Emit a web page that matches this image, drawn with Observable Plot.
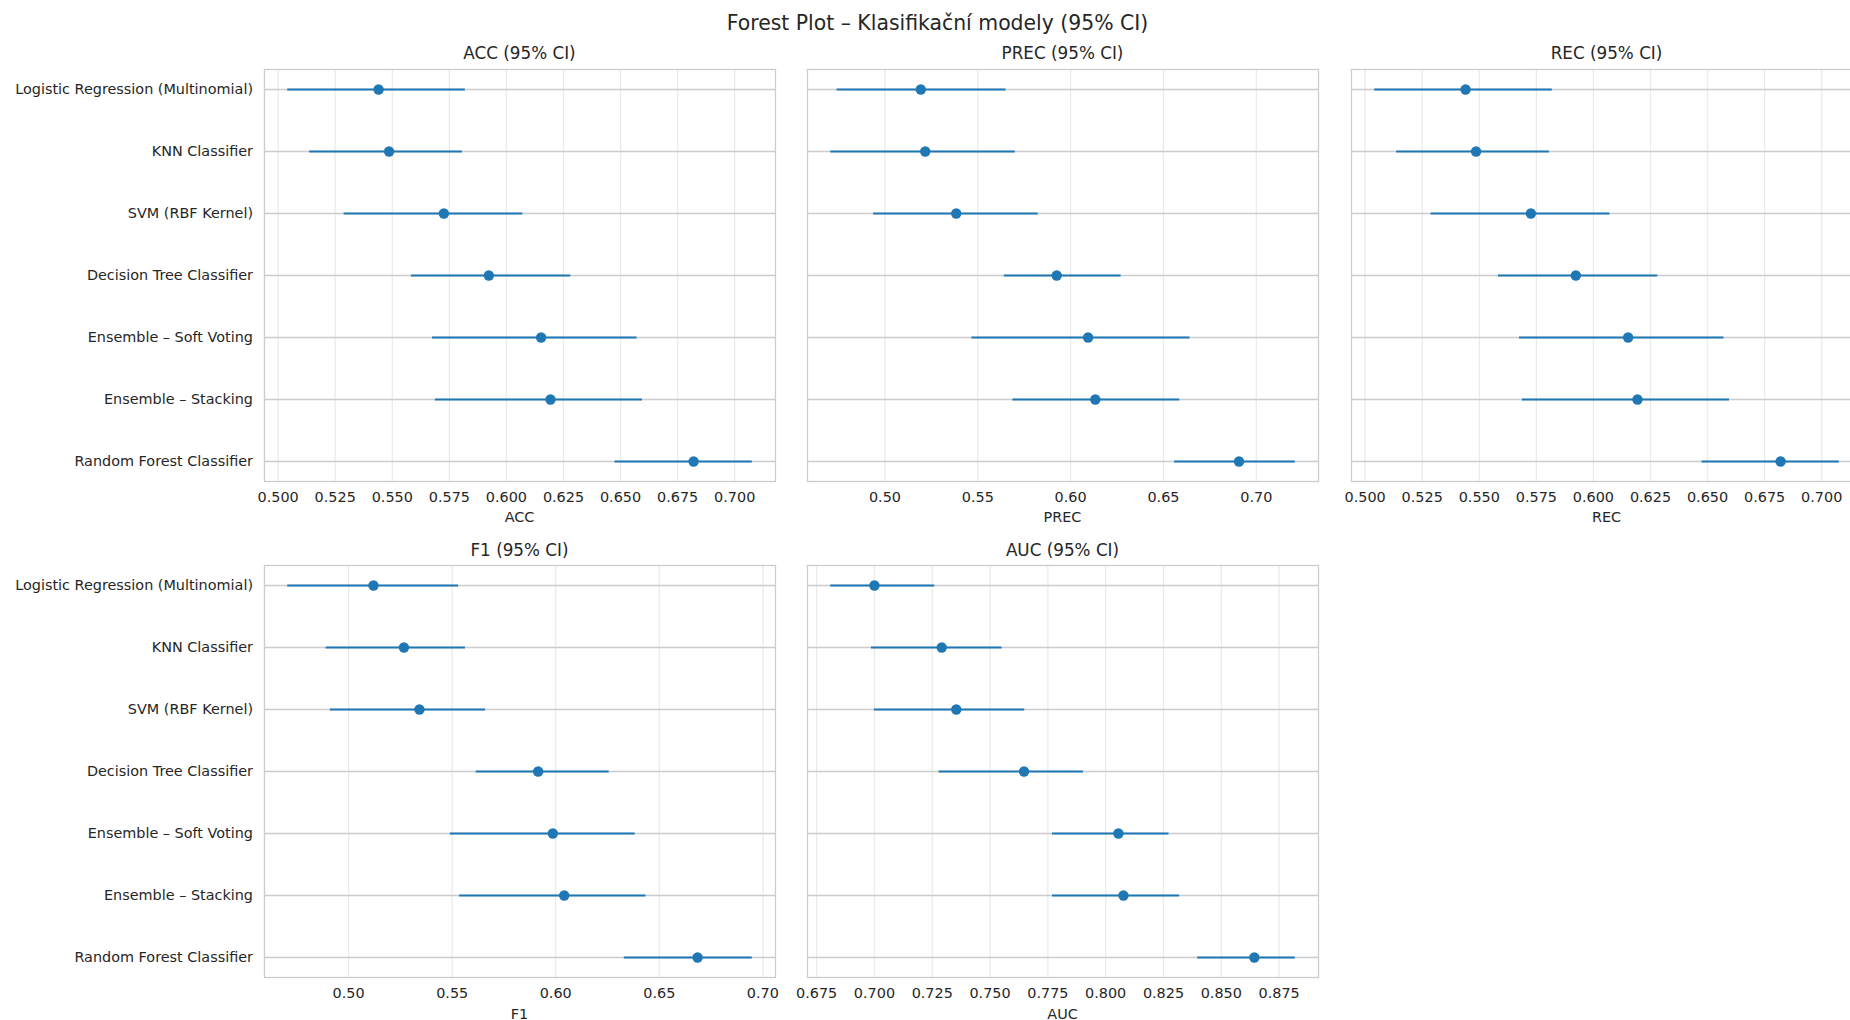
<!DOCTYPE html>
<html>
<head>
<meta charset="utf-8">
<script src="https://cdn.jsdelivr.net/npm/d3@7"></script>
<script src="https://cdn.jsdelivr.net/npm/@observablehq/plot@0.6"></script>
<style>
  html, body { margin: 0; padding: 0; background: #fff; overflow: hidden; }
  #root { position: relative; width: 1850px; height: 1020px; overflow: hidden; background: #fff;
          font-family: "DejaVu Sans", sans-serif; color: #262626; }
  .txt { position: absolute; transform: translate(-50%, -50%); white-space: nowrap; line-height: 1; }
  .pnl { position: absolute; }
  .pnl svg { max-width: none !important; display: block; }
</style>
</head>
<body>
<div id="root"></div>
<script>
const models = [
  "Logistic Regression (Multinomial)",
  "KNN Classifier",
  "SVM (RBF Kernel)",
  "Decision Tree Classifier",
  "Ensemble – Soft Voting",
  "Ensemble – Stacking",
  "Random Forest Classifier"
];

const accMean = [0.5440, 0.5486, 0.5726, 0.5923, 0.6152, 0.6193, 0.6820];
const accLo   = [0.5042, 0.5138, 0.5289, 0.5584, 0.5676, 0.5689, 0.6476];
const accHi   = [0.5820, 0.5807, 0.6072, 0.6282, 0.6572, 0.6596, 0.7077];

const precMean = [0.5193, 0.5217, 0.5384, 0.5925, 0.6094, 0.6133, 0.6907];
const precLo   = [0.4742, 0.4708, 0.4939, 0.5643, 0.5468, 0.5689, 0.6560];
const precHi   = [0.5652, 0.5702, 0.5825, 0.6272, 0.6643, 0.6588, 0.7210];

const recMean = [0.5440, 0.5486, 0.5726, 0.5923, 0.6152, 0.6193, 0.6820];
const recLo   = [0.5042, 0.5138, 0.5289, 0.5584, 0.5676, 0.5689, 0.6476];
const recHi   = [0.5820, 0.5807, 0.6072, 0.6282, 0.6572, 0.6596, 0.7077];

const f1Mean = [0.5120, 0.5267, 0.5342, 0.5915, 0.5986, 0.6041, 0.6685];
const f1Lo   = [0.4706, 0.4892, 0.4912, 0.5616, 0.5491, 0.5536, 0.6331];
const f1Hi   = [0.5531, 0.5564, 0.5661, 0.6258, 0.6384, 0.6436, 0.6949];

const aucMean = [0.7000, 0.7291, 0.7354, 0.7647, 0.8055, 0.8077, 0.8643];
const aucLo   = [0.6811, 0.6987, 0.7000, 0.7280, 0.7770, 0.7770, 0.8398];
const aucHi   = [0.7261, 0.7552, 0.7650, 0.7904, 0.8274, 0.8320, 0.8820];

const accTicks  = [0.500, 0.525, 0.550, 0.575, 0.600, 0.625, 0.650, 0.675, 0.700];
const precTicks = [0.50, 0.55, 0.60, 0.65, 0.70];
const recTicks  = [0.500, 0.525, 0.550, 0.575, 0.600, 0.625, 0.650, 0.675, 0.700];
const f1Ticks   = [0.50, 0.55, 0.60, 0.65, 0.70];
const aucTicks  = [0.675, 0.700, 0.725, 0.750, 0.775, 0.800, 0.825, 0.850, 0.875];

const suptitle = "Forest Plot – Klasifikační modely (95% CI)";

const panels = [
  {name: "ACC",  mean: accMean,  lo: accLo,  hi: accHi,  ticks: accTicks,  fmt: ".3f", col: 0, row: 0},
  {name: "PREC", mean: precMean, lo: precLo, hi: precHi, ticks: precTicks, fmt: ".2f", col: 1, row: 0},
  {name: "REC",  mean: recMean,  lo: recLo,  hi: recHi,  ticks: recTicks,  fmt: ".3f", col: 2, row: 0},
  {name: "F1",   mean: f1Mean,   lo: f1Lo,   hi: f1Hi,   ticks: f1Ticks,   fmt: ".2f", col: 0, row: 1},
  {name: "AUC",  mean: aucMean,  lo: aucLo,  hi: aucHi,  ticks: aucTicks,  fmt: ".3f", col: 1, row: 1}
];

// layout (frame geometry)
const colLeft = [264, 807, 1351];
const rowTop = [68.5, 565];
const FW = 511, FH = 412;
const BLUE = "#1f77b4";
const TEXT = "#262626";
const TICKFS = 14.4;

const root = document.getElementById("root");

function addText(str, x, y, size) {
  const d = document.createElement("div");
  d.className = "txt";
  d.style.left = x + "px";
  d.style.top = y + "px";
  d.style.fontSize = size + "px";
  d.textContent = str;
  root.appendChild(d);
}

addText(suptitle, 937.5, 22.5, 20.4);

for (const p of panels) {
  const rows = models.map((m, i) => ({model: m, mean: p.mean[i], lo: p.lo[i], hi: p.hi[i]}));
  const dmin = d3.min(p.lo), dmax = d3.max(p.hi);
  const pad = (dmax - dmin) * 0.05;
  const showY = p.col === 0;
  const mL = showY ? colLeft[0] : 20;
  const mR = 12, mT = 10, mB = 30;
  const fx = colLeft[p.col], fy = rowTop[p.row];

  const marks = [
    Plot.gridX(p.ticks, {stroke: "#ebebeb", strokeOpacity: 1, strokeWidth: 1.3}),
    Plot.ruleY(models, {stroke: "#cccccc", strokeWidth: 1.3}),
    Plot.frame({stroke: "#cccccc", strokeWidth: 1.3}),
    Plot.axisX(p.ticks, {tickSize: 0, tickPadding: 10.2, tickFormat: d3.format(p.fmt), label: null, fontSize: TICKFS, fill: TEXT}),
    Plot.ruleY(rows, {y: "model", x1: "lo", x2: "hi", stroke: BLUE, strokeWidth: 2.2}),
    Plot.dot(rows, {x: "mean", y: "model", r: 5.2, fill: BLUE, stroke: "none"})
  ];
  if (showY) marks.push(Plot.axisY({tickSize: 0, tickPadding: 11.5, label: null, fontSize: TICKFS, fill: TEXT}));

  const chart = Plot.plot({
    width: mL + FW + mR,
    height: mT + FH + mB,
    marginLeft: mL, marginRight: mR, marginTop: mT, marginBottom: mB,
    x: {domain: [dmin - pad, dmax + pad]},
    y: {type: "point", domain: models, padding: 0.3, axis: showY ? undefined : null},
    style: {fontFamily: "DejaVu Sans", fontSize: TICKFS + "px", color: TEXT, background: "transparent", overflow: "visible"},
    marks
  });

  const wrap = document.createElement("div");
  wrap.className = "pnl";
  wrap.style.left = (fx - mL) + "px";
  wrap.style.top = (fy - mT) + "px";
  wrap.style.width = (mL + FW + mR) + "px";
  wrap.style.height = (mT + FH + mB) + "px";
  wrap.appendChild(chart);
  root.appendChild(wrap);

  addText(p.name + " (95% CI)", fx + FW / 2, fy - 15.5, 16.8);
  addText(p.name, fx + FW / 2, fy + FH + 36.5, TICKFS);
}
</script>
</body>
</html>
